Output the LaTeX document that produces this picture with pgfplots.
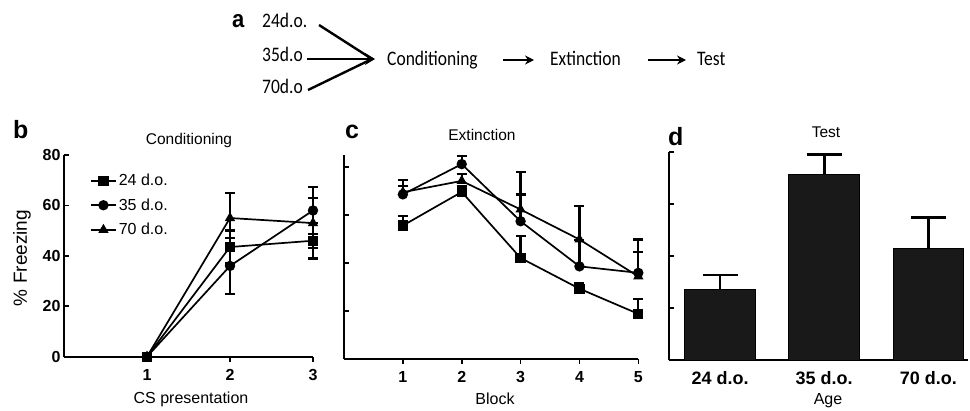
\documentclass[border=0pt]{standalone}
\usepackage{fontspec}
\setmainfont{Liberation Sans}
\newfontfamily\cali{Carlito}
\usepackage{pgfplots}
\pgfplotsset{compat=1.18}
\usetikzlibrary{arrows.meta}

\newcommand{\fs}[1]{\fontsize{#1bp}{#1bp}\selectfont}

\pgfplotsset{
  panel/.style={
    scale only axis,
    anchor=south west,
    axis x line*=bottom,
    axis y line*=left,
    axis line style={line width=1.6bp},
    xtick align=outside,
    ytick align=inside,
    major tick length=5bp,
    major tick style={line width=1.6bp, black},
    /pgf/number format/assume math mode=true,
    ticklabel style={font=\fs{16}\bfseries},
    xticklabel style={yshift=-4bp},
    clip=false,
    every axis plot/.append style={line width=1.7bp, black, mark size=4.3bp},
  },
  errs/.style={
    error bars/.cd, y explicit, y dir=#1,
    error bar style={line width=2.3bp},
    error mark options={rotate=90, mark size=5bp, line width=2.3bp},
  },
}

\begin{document}
\begin{tikzpicture}
\begin{scope}[x=1bp, y=1bp]
\path[use as bounding box] (0,0) rectangle (970,410);

% panel a: design
\node[anchor=base west, inner sep=0pt, font=\fs{22}\bfseries, yscale=1.1] at (232,382) {a};
\begin{scope}[every node/.style={anchor=base west, inner sep=0pt, font=\cali\fs{17.5}, yscale=1.18}]
\node at (262,382) {24d.o.};
\node at (262,348) {35d.o};
\node at (262,317) {70d.o};
\node at (387,344) {Conditioning};
\node at (550,344) {Extinction};
\node at (697,344) {Test};
\end{scope}
\draw[line width=2.4bp] (319,385) -- (372,351);
\draw[line width=2.4bp] (308,320) -- (372,351);
\draw[line width=2.4bp, -{Stealth[length=10bp, width=12bp]}] (307,351) -- (375,351);
\draw[line width=2.4bp, -{Stealth[length=9bp, width=9bp]}] (503,350) -- (534,350);
\draw[line width=2.4bp, -{Stealth[length=9bp, width=9bp]}] (648,350) -- (686,350);
\end{scope}

% panel b: conditioning
\begin{axis}[panel, at={(64bp,53.3bp)}, width=249bp, height=201.7bp,
  xmin=0, xmax=3, ymin=0, ymax=80,
  xtick={1,2,3}, ytick={0,20,40,60,80},
  legend style={at={(0.104,0.916)}, anchor=north west, draw=none, fill=none,
    font=\fs{16}, inner sep=0pt, row sep=7.5bp},
  legend cell align=left,
  legend image code/.code={\draw[mark repeat=2, mark phase=2, #1]
    plot coordinates {(0bp,0bp) (12.5bp,0bp) (25bp,0bp)};}]
\addplot[mark=square*, errs=both] coordinates {
  (1,0) +- (0,0) (2,43.5) +- (0,6.5) (3,46) +- (0,7)};
\addlegendentry{24 d.o.}
\addplot[mark=*, errs=both] coordinates {
  (1,0) +- (0,0) (2,36) +- (0,11) (3,58) +- (0,9.3)};
\addlegendentry{35 d.o.}
\addplot[mark=triangle*, errs=both] coordinates {
  (1,0) +- (0,0) (2,55) +- (0,10) (3,53) +- (0,10)};
\addlegendentry{70 d.o.}
\end{axis}

% panel c: extinction
\begin{axis}[panel, at={(344bp,51bp)}, width=294.3bp, height=204bp,
  xmin=0, xmax=5, ymin=0, ymax=85,
  xtick={1,2,3,4,5}, ytick={20,40,60,80}, yticklabels={}]
\addplot[mark=square*, errs=plus] coordinates {
  (1,55.6) +- (0,3.9) (2,69.6) +- (0,2.5) (3,42.1) +- (0,9.1)
  (4,29.3) +- (0,2.5) (5,18.8) +- (0,6.2)};
\addplot[mark=*, errs=plus] coordinates {
  (1,68.6) +- (0,3.5) (2,81.2) +- (0,3.4) (3,57.4) +- (0,11.2)
  (4,38.6) +- (0,11) (5,35.9) +- (0,8.7)};
\addplot[mark=triangle*, errs=plus] coordinates {
  (1,69.5) +- (0,5.1) (2,74.2) +- (0,3) (3,62.3) +- (0,15.6)
  (4,49.8) +- (0,13.9) (5,34.4) +- (0,15.4)};
\end{axis}

% panel d: test
\begin{axis}[panel, at={(669bp,50bp)}, width=299bp, height=208bp,
  xmin=-0.49, xmax=2.38, ymin=0, ymax=80,
  ytick={20,40,60,80}, yticklabels={},
  xtick={0,1,2}, xticklabels={24 d.o., 35 d.o., 70 d.o.},
  xticklabel style={font=\fs{18}\bfseries, yshift=1bp},
  major x tick style={draw=none}]
\addplot[ybar, bar width=0.68, fill=black!90, draw=black, line width=1bp,
  error bars/.cd, y explicit, y dir=plus,
  error bar style={line width=2.6bp},
  error mark options={rotate=90, mark size=17.5bp, line width=2.6bp}]
  coordinates {(0,27.3) +- (0,5.4) (1,71.2) +- (0,7.9) (2,42.8) +- (0,12.1)};
\end{axis}

% panel letters, titles and axis labels
\begin{scope}[x=1bp, y=1bp, every node/.style={inner sep=0pt}]
\node[anchor=base west, font=\fs{25}\bfseries] at (13,271.7) {b};
\node[anchor=base west, font=\fs{25}\bfseries] at (345,271.7) {c};
\node[anchor=base west, font=\fs{25}\bfseries] at (668,265) {d};
\node[anchor=base, font=\fs{15.5}] at (189,266) {Conditioning};
\node[anchor=base, font=\fs{15.5}] at (482,270) {Extinction};
\node[anchor=base, font=\fs{15.5}] at (826,273) {Test};
\node[rotate=90, font=\fs{19}] at (22,152) {\% Freezing};
\node[anchor=base, font=\fs{16}] at (191,7) {CS presentation};
\node[anchor=base, font=\fs{16}] at (495,6) {Block};
\node[anchor=base, font=\fs{16}] at (828,6) {Age};
\end{scope}
\end{tikzpicture}
\end{document}
